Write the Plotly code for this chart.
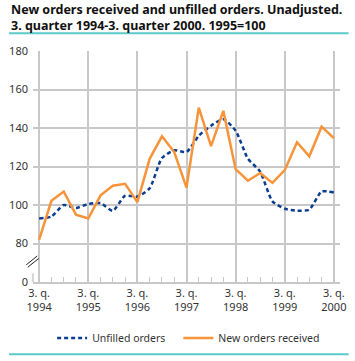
import plotly.graph_objects as go

quarters = list(range(25))
tick_pos = [0, 4, 8, 12, 16, 20, 24]
tick_labels = ["3. q.<br>1994", "3. q.<br>1995", "3. q.<br>1996", "3. q.<br>1997",
               "3. q.<br>1998", "3. q.<br>1999", "3. q.<br>2000"]

unfilled = [93, 94, 100, 98.5, 100.5, 101, 97, 104.8, 104.4, 108.7, 124.4, 128.4,
            127.5, 136, 141.2, 144.6, 138.6, 124.1, 117.3, 101.9, 98.1, 97, 97.6, 107, 106.5]
new_orders = [82, 102.2, 107, 95, 93, 105, 110, 111, 101.5, 124, 135.7, 127.5,
              109, 150.6, 130.6, 148.9, 118.6, 112.6, 116.6, 111.5, 118.1, 132.6, 125.3, 140.7, 134.7]

y_tickvals = [60, 80, 100, 120, 140, 160, 180]
y_ticktext = ["0", "80", "100", "120", "140", "160", "180"]

title_lines = ["New orders received and unfilled orders. Unadjusted.",
               "3. quarter 1994-3. quarter 2000. 1995=100"]

BLUE = "#0B3D91"
ORANGE = "#F7943A"
GRID = "#C8C8C8"
TEAL = "#5CC8C8"

fig = go.Figure()
fig.add_trace(go.Scatter(x=quarters, y=unfilled, mode="lines", name="Unfilled orders", legend="legend",
                         line=dict(color=BLUE, width=2.5, dash="4px,3px", shape="spline", smoothing=0.6)))
fig.add_trace(go.Scatter(x=quarters, y=new_orders, mode="lines", name="New orders received", legend="legend2",
                         line=dict(color=ORANGE, width=2.5)))

L, R, T, B = 25, 9, 51, 75
W, H = 355, 361
pw = W - L - R
ph = H - T - B

def px_x(p):
    return (p - L) / pw

def px_y(p):
    return (H - B - p) / ph

shapes = [
    dict(type="line", xref="paper", yref="paper", x0=px_x(0), x1=px_x(355), y0=px_y(33), y1=px_y(33),
         line=dict(color=TEAL, width=2)),
    dict(type="line", xref="paper", yref="paper", x0=px_x(0), x1=px_x(355), y0=px_y(359.5), y1=px_y(359.5),
         line=dict(color=TEAL, width=2)),
    dict(type="line", xref="paper", yref="paper", x0=0, x1=0, y0=px_y(286), y1=px_y(277),
         line=dict(color=GRID, width=1.5)),
    dict(type="line", xref="paper", yref="paper", x0=px_x(18), x1=px_x(29.5), y0=px_y(268.5), y1=px_y(259.5),
         line=dict(color="#222222", width=1)),
    dict(type="line", xref="paper", yref="paper", x0=px_x(19.5), x1=px_x(31), y0=px_y(271), y1=px_y(262),
         line=dict(color="#222222", width=1)),
]

annotations = [
    dict(text="<b>%s</b>" % "<br>".join(title_lines), xref="paper", yref="paper", x=px_x(1), y=px_y(16.5),
         xanchor="left", yanchor="middle", align="left", showarrow=False, borderpad=0,
         font=dict(family="Noto Sans, Open Sans, sans-serif", size=12.5, color="#111111")),
]

legend_common = dict(orientation="h", xanchor="left", y=px_y(343), yanchor="middle",
                     font=dict(size=10.5, color="#333333"), itemwidth=30, bgcolor="rgba(0,0,0,0)")

fig.update_layout(
    width=W, height=H,
    margin=dict(l=L, r=R, t=T, b=B, pad=0),
    paper_bgcolor="white", plot_bgcolor="white",
    font=dict(family="Noto Sans, Open Sans, sans-serif", size=11, color="#333333"),
    showlegend=True,
    legend=dict(x=px_x(45), **legend_common),
    legend2=dict(x=px_x(177), **legend_common),
    shapes=shapes,
    annotations=annotations,
)

fig.update_xaxes(range=[-0.5, 24.5], tickmode="array", tickvals=tick_pos, ticktext=tick_labels,
                 showgrid=True, gridcolor=GRID, gridwidth=2, ticks="", zeroline=False,
                 showline=True, linecolor=GRID, linewidth=1.5, mirror=False,
                 minor=dict(tickmode="linear", tick0=0, dtick=1, ticks="inside", ticklen=5,
                            tickcolor=GRID, tickwidth=1, showgrid=False),
                 tickfont=dict(size=11, color="#333333"), fixedrange=True)
fig.update_yaxes(range=[60, 180], tickmode="array", tickvals=y_tickvals, ticktext=y_ticktext,
                 showgrid=True, gridcolor=GRID, gridwidth=1.5, ticks="", zeroline=False,
                 showline=False, tickfont=dict(size=11, color="#333333"), ticklabelstandoff=4,
                 fixedrange=True)

fig.write_html("out.html", config={"displayModeBar": False},
               post_script="document.body.style.margin='0';document.body.style.overflow='hidden';")
